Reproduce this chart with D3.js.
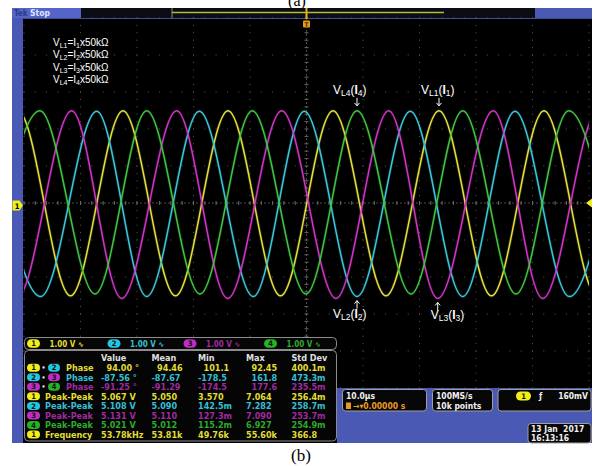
<!DOCTYPE html>
<html>
<head>
<meta charset="utf-8">
<script src="https://cdn.jsdelivr.net/npm/d3@7"></script>
<style>
body { margin: 0; background: #fff; }
svg { display: block; }
text { white-space: pre; }
</style>
</head>
<body>
<svg id="scope" width="596" height="466"></svg>
<script>
// crest / trough times (µs, trigger = 0) and levels (V) of each channel
var ch1Times = [-60.30, -51.06, -41.77, -32.48, -23.19, -13.89, -4.60, 4.69, 14.07, 23.45, 32.74, 42.04, 51.42, 60.80];
var ch1Volts = [-2.51, 2.49, -2.51, 2.49, -2.51, 2.49, -2.51, 2.49, -2.51, 2.49, -2.51, 2.49, -2.51, 2.49];
var ch2Times = [-56.37, -47.04, -37.13, -28.28, -18.97, -9.42, -0.39, 8.94, 18.37, 27.65, 36.90, 46.51, 55.66];
var ch2Volts = [2.48, -2.53, 2.48, -2.53, 2.48, -2.53, 2.48, -2.53, 2.48, -2.53, 2.48, -2.53, 2.48];
var ch3Times = [-60.60, -51.29, -41.56, -32.71, -22.97, -13.95, -4.39, 5.22, 14.55, 23.22, 33.06, 41.81, 51.59, 60.90];
var ch3Volts = [2.49, -2.58, 2.49, -2.58, 2.49, -2.58, 2.49, -2.58, 2.49, -2.58, 2.49, -2.58, 2.49, -2.58];
var ch4Times = [-56.55, -47.17, -37.43, -28.28, -18.85, -9.59, -0.09, 8.94, 18.50, 27.65, 37.08, 46.41, 55.66];
var ch4Volts = [-2.46, 2.49, -2.46, 2.49, -2.46, 2.49, -2.46, 2.49, -2.46, 2.49, -2.46, 2.49, -2.46];

// channel readout
var chNumbers = ["1", "2", "3", "4"];
var chScales = ["1.00 V", "1.00 V", "1.00 V", "1.00 V"];

// measurement table
var measHeader = ["Value", "Mean", "Min", "Max", "Std Dev"];
var measNames = ["Phase", "Phase", "Phase", "Peak-Peak", "Peak-Peak", "Peak-Peak", "Peak-Peak", "Frequency"];
var measSources = [[1, 2], [2, 3], [3, 4], [1], [2], [3], [4], [1]];
var measValues = [
  ["94.00 °", "94.46", "101.1", "92.45", "400.1m"],
  ["-87.56 °", "-87.67", "-178.5", "161.8", "473.3m"],
  ["-91.25 °", "-91.29", "-174.5", "177.6", "235.5m"],
  ["5.067 V", "5.050", "3.570", "7.064", "256.4m"],
  ["5.108 V", "5.090", "142.5m", "7.282", "258.7m"],
  ["5.131 V", "5.110", "127.3m", "7.090", "253.7m"],
  ["5.021 V", "5.012", "115.2m", "6.927", "254.9m"],
  ["53.78kHz", "53.81k", "49.76k", "55.60k", "366.8"]
];

// horizontal / acquisition / trigger readouts
var timeScale = "10.0µs";
var trigPos = "0.00000 s";
var sampleRate = "100MS/s";
var recordLen = "10k points";
var trigLevel = "160mV";
var dateLines = ["13 Jan  2017", "16:13:16"];

// legend and annotations
var legendRows = [["1", "1"], ["2", "2"], ["3", "3"], ["4", "4"]];
var notes = [
  {ch: 0, k: 9, n: "1", up: false, dx: -18},
  {ch: 3, k: 7, n: "4", up: false, dx: -24},
  {ch: 1, k: 7, n: "2", up: true, dx: -24},
  {ch: 2, k: 9, n: "3", up: true, dx: -7}
];

var traceColors = ["#e4e03c", "#3cc6da", "#d036c6", "#42c442"];
var badgeColors = ["#f2ee1a", "#22c6e0", "#c22cc0", "#22b422"];
var textColors = ["#e2de34", "#34c0d4", "#a02aa0", "#2eaa2e"];
var tekBlue = "#4a59b4";
var ui = "'DejaVu Sans Condensed','DejaVu Sans',sans-serif";
var serif = "'Liberation Serif','Times New Roman',serif";
var sans = "'Liberation Sans',Arial,sans-serif";

var svg = d3.select("#scope");
svg.append("rect").attr("width", 596).attr("height", 466).attr("fill", "#fff");

var x = d3.scaleLinear().domain([-50, 50]).range([24, 589]);
var y = d3.scaleLinear().domain([-5, 5]).range([388, 18]);

// screen and frame
svg.append("rect").attr("x", 12).attr("y", 8).attr("width", 580).attr("height", 435).attr("fill", "#000");
svg.append("rect").attr("x", 12).attr("y", 8).attr("width", 11).attr("height", 435).attr("fill", tekBlue);

// top bar
svg.append("rect").attr("x", 81).attr("y", 8).attr("width", 454).attr("height", 10).attr("fill", "#0c0c14");
svg.append("rect").attr("x", 12).attr("y", 8).attr("width", 69).attr("height", 10).attr("fill", "#5464c8");
svg.append("rect").attr("x", 535).attr("y", 8).attr("width", 57).attr("height", 10).attr("fill", tekBlue);
svg.append("line").attr("x1", 23).attr("x2", 592).attr("y1", 18.5).attr("y2", 18.5)
  .attr("stroke", "#3d4c9c").attr("stroke-width", 1);
svg.append("line").attr("x1", 172).attr("x2", 172).attr("y1", 8).attr("y2", 18)
  .attr("stroke", "#8a8a8a").attr("stroke-width", 1);
svg.append("line").attr("x1", 172).attr("x2", 444).attr("y1", 12.5).attr("y2", 12.5)
  .attr("stroke", "#b4bc3c").attr("stroke-width", 1.5);
svg.append("text").attr("x", 14).attr("y", 16).attr("font-family", ui).attr("font-size", 8)
  .attr("font-weight", "bold").attr("fill", "#2c3a8c").text("Tek");
svg.append("text").attr("x", 30).attr("y", 16).attr("font-family", ui).attr("font-size", 8.5)
  .attr("font-weight", "bold").attr("fill", "#dfe5ff").text("Stop");

// graticule
var grid = svg.append("g").attr("fill", "#5a5a5a");
var hDots = [];
d3.range(-5, 5.001, 1).forEach(function (v) {
  d3.range(-50, 50.001, 2).forEach(function (t) { hDots.push([t, v]); });
});
d3.range(-50, 50.001, 10).forEach(function (t) {
  d3.range(-5, 5.001, 0.2).forEach(function (v) { hDots.push([t, v]); });
});
grid.selectAll("rect").data(hDots).enter().append("rect")
  .attr("x", function (d) { return x(d[0]) - 0.5; })
  .attr("y", function (d) { return y(d[1]) - 0.5; })
  .attr("width", 1).attr("height", 1);

var center = svg.append("g").attr("stroke", "#4a4a4a").attr("stroke-width", 1);
center.append("line").attr("x1", x(-50)).attr("x2", x(50)).attr("y1", y(0)).attr("y2", y(0))
  .attr("stroke-dasharray", "2,2");
center.append("line").attr("x1", x(0)).attr("x2", x(0)).attr("y1", y(5)).attr("y2", y(-5))
  .attr("stroke-dasharray", "2,2");
center.selectAll(".tx").data(d3.range(-50, 50.001, 2)).enter().append("line")
  .attr("x1", function (d) { return x(d); }).attr("x2", function (d) { return x(d); })
  .attr("y1", y(0) - 2).attr("y2", y(0) + 2).attr("stroke", "#666");
center.selectAll(".ty").data(d3.range(-5, 5.001, 0.2)).enter().append("line")
  .attr("y1", function (d) { return y(d); }).attr("y2", function (d) { return y(d); })
  .attr("x1", x(0) - 2).attr("x2", x(0) + 2).attr("stroke", "#666");

// traces
svg.append("clipPath").attr("id", "grat").append("rect")
  .attr("x", 24).attr("y", 18).attr("width", 565).attr("height", 370);
var traces = [d3.zip(ch1Times, ch1Volts), d3.zip(ch2Times, ch2Volts),
              d3.zip(ch3Times, ch3Volts), d3.zip(ch4Times, ch4Volts)];
var line = d3.line()
  .x(function (d) { return x(d[0]); })
  .y(function (d) { return y(d[1]); })
  .curve(d3.curveMonotoneX);
var tg = svg.append("g").attr("clip-path", "url(#grat)").attr("fill", "none");
traces.forEach(function (pts, i) {
  tg.append("path").attr("d", line(pts)).attr("stroke", traceColors[i])
    .attr("stroke-width", 3.2).attr("stroke-opacity", 0.15);
  tg.append("path").attr("d", line(pts)).attr("stroke", traceColors[i])
    .attr("stroke-width", 1.5);
});

// trigger position marker
svg.append("line").attr("x1", x(0)).attr("x2", x(0)).attr("y1", 8).attr("y2", 19)
  .attr("stroke", "#e8b020").attr("stroke-width", 2);
svg.append("rect").attr("x", x(0) - 3.5).attr("y", 20.5).attr("width", 7).attr("height", 7)
  .attr("rx", 1).attr("fill", "#e89a20");
svg.append("text").attr("x", x(0)).attr("y", 26.5).attr("text-anchor", "middle")
  .attr("font-family", ui).attr("font-size", 6.5).attr("font-weight", "bold").attr("fill", "#5a3000").text("T");

// ground marker of channel 1 and trigger level
var gm = svg.append("g");
gm.append("path").attr("d", "M12.5,200.5 h7 l3.5,5 l-3.5,5 h-7 z").attr("fill", badgeColors[0]);
gm.append("text").attr("x", 17).attr("y", 208.5).attr("text-anchor", "middle").attr("font-family", ui)
  .attr("font-size", 7.5).attr("font-weight", "bold").attr("fill", "#000").text("1");
svg.append("path").attr("d", "M586,203 l6,-4.5 v9 z").attr("fill", badgeColors[0]);

// legend
legendRows.forEach(function (r, i) {
  var t = svg.append("text").attr("x", 53).attr("y", 45.5 + i * 12.6)
    .attr("font-family", sans).attr("font-size", 10).attr("fill", "#fff");
  t.append("tspan").text("V");
  t.append("tspan").attr("dy", 2).attr("font-size", 7).text("L" + r[0]);
  t.append("tspan").attr("dy", -2).text("=I");
  t.append("tspan").attr("dy", 2).attr("font-size", 7).text(r[1]);
  t.append("tspan").attr("dy", -2).text("x50kΩ");
});

// annotations pointing at crests and troughs
notes.forEach(function (a) {
  var times = [ch1Times, ch2Times, ch3Times, ch4Times][a.ch];
  var volts = [ch1Volts, ch2Volts, ch3Volts, ch4Volts][a.ch];
  var px = x(times[a.k]), py = y(volts[a.k]);
  var g = svg.append("g").attr("stroke", "#fff").attr("stroke-width", 1).attr("fill", "none");
  var ay0 = a.up ? py + 4 : py - 13, ay1 = a.up ? py + 12 : py - 5;
  g.append("line").attr("x1", px).attr("x2", px).attr("y1", ay0).attr("y2", ay1);
  if (a.up) g.append("path").attr("d", "M" + (px - 2.5) + "," + (ay0 + 3) + " L" + px + "," + ay0 + " L" + (px + 2.5) + "," + (ay0 + 3));
  else g.append("path").attr("d", "M" + (px - 2.5) + "," + (ay1 - 3) + " L" + px + "," + ay1 + " L" + (px + 2.5) + "," + (ay1 - 3));
  var ty = a.up ? py + 21 : py - 17;
  var t = svg.append("text").attr("x", px + a.dx).attr("y", ty)
    .attr("font-family", sans).attr("font-size", 12).attr("fill", "#fff");
  t.append("tspan").text("V");
  t.append("tspan").attr("dy", 2).attr("font-size", 8.5).text("L" + a.n);
  t.append("tspan").attr("dy", -2).text("(");
  t.append("tspan").attr("font-weight", "bold").text("I");
  t.append("tspan").attr("dy", 2).attr("font-size", 8.5).text(a.n);
  t.append("tspan").attr("dy", -2).text(")");
});

function badge(g, cx, cy, n, color, w, h) {
  g.append("rect").attr("x", cx - w / 2).attr("y", cy - h / 2).attr("width", w).attr("height", h)
    .attr("rx", h / 2).attr("fill", color);
  g.append("text").attr("x", cx).attr("y", cy + 2.6).attr("text-anchor", "middle")
    .attr("font-family", ui).attr("font-size", 7.5).attr("font-weight", "bold").attr("fill", "#111").text(n);
}

// channel readout bar
var cr = svg.append("g");
cr.append("rect").attr("x", 24.5).attr("y", 337.5).attr("width", 312).attr("height", 12).attr("rx", 4)
  .attr("fill", "#060606").attr("stroke", "#8c8c8c");
var chX = [33.5, 114, 190, 270.5];
chNumbers.forEach(function (n, i) {
  badge(cr, chX[i], 343.5, n, badgeColors[i], 13, 8.5);
  cr.append("text").attr("x", chX[i] + 16).attr("y", 346.5).attr("font-family", ui).attr("font-size", 8)
    .attr("font-weight", "bold").attr("fill", textColors[i]).text(chScales[i] + " \u223F");
});

// measurement table
var mt = svg.append("g");
mt.append("rect").attr("x", 24.5).attr("y", 350.5).attr("width", 312).attr("height", 90.5).attr("rx", 4)
  .attr("fill", "#050505").attr("stroke", "#8c8c8c");
var colX = [101, 151.5, 198, 246, 291.5];
measHeader.forEach(function (h, j) {
  mt.append("text").attr("x", colX[j]).attr("y", 361).attr("font-family", ui).attr("font-size", 9)
    .attr("font-weight", "bold").attr("fill", "#e0e0e0").text(h);
});
measNames.forEach(function (name, i) {
  var cy = 367.7 + i * 9.55;
  var src = measSources[i];
  var col = textColors[src[0] - 1];
  badge(mt, 33.5, cy, String(src[0]), badgeColors[src[0] - 1], 13, 8);
  var nameX = 45;
  if (src.length > 1) {
    mt.append("text").attr("x", 41.5).attr("y", cy + 2.5).attr("font-family", ui).attr("font-size", 7)
      .attr("font-weight", "bold").attr("fill", "#ddd").text("•");
    badge(mt, 54, cy, String(src[1]), badgeColors[src[1] - 1], 12, 8);
    nameX = 66;
  }
  mt.append("text").attr("x", nameX).attr("y", cy + 3.3).attr("font-family", ui).attr("font-size", 9)
    .attr("font-weight", "bold").attr("fill", col).text(name);
  measValues[i].forEach(function (v, j) {
    var shift = (src.length > 1 && v.charAt(0) !== "-" && j < 4) ? 5.5 : 0;
    mt.append("text").attr("x", colX[j] + shift).attr("y", cy + 3.3).attr("font-family", ui)
      .attr("font-size", 9).attr("font-weight", "bold").attr("fill", col).text(v);
  });
});

// lower right status area
var st = svg.append("g");
st.append("rect").attr("x", 337).attr("y", 388).attr("width", 255).attr("height", 55).attr("fill", tekBlue);
function box(bx, by, bw, bh) {
  st.append("rect").attr("x", bx).attr("y", by).attr("width", bw).attr("height", bh).attr("rx", 3)
    .attr("fill", "#070707").attr("stroke", "#a0a0a0");
}
function txt(tx, ty, s, c, anchor) {
  return st.append("text").attr("x", tx).attr("y", ty).attr("font-family", ui).attr("font-size", 8.5)
    .attr("font-weight", "bold").attr("fill", c).attr("text-anchor", anchor || "start").text(s);
}
box(342.5, 389.5, 84, 21.5);
txt(346, 399, timeScale, "#f0f0f0");
st.append("rect").attr("x", 346).attr("y", 402.5).attr("width", 5).attr("height", 6.5).attr("fill", "#e89a20");
txt(353, 409, "\u2192\u25BE" + trigPos, "#e89a20");
box(432.5, 389.5, 60, 21.5);
txt(436, 399, sampleRate, "#f0f0f0");
txt(436, 409, recordLen, "#f0f0f0");
box(498, 389.5, 93, 21.5);
badge(st, 523.5, 396, "1", badgeColors[0], 15, 9);
txt(539, 399, "\u0192", "#f0f0f0");
txt(588, 399, trigLevel, "#f0f0f0", "end");
box(528, 423.5, 63, 19.5);
txt(531, 432, dateLines[0], "#f0f0f0");
txt(531, 440.5, dateLines[1], "#f0f0f0");

// captions
svg.append("text").attr("x", 297).attr("y", 6).attr("text-anchor", "middle").attr("font-family", serif)
  .attr("font-size", 16).attr("fill", "#000").text("(a)");
svg.append("text").attr("x", 301).attr("y", 461).attr("text-anchor", "middle").attr("font-family", serif)
  .attr("font-size", 17).attr("fill", "#000").text("(b)");
</script>
</body>
</html>
